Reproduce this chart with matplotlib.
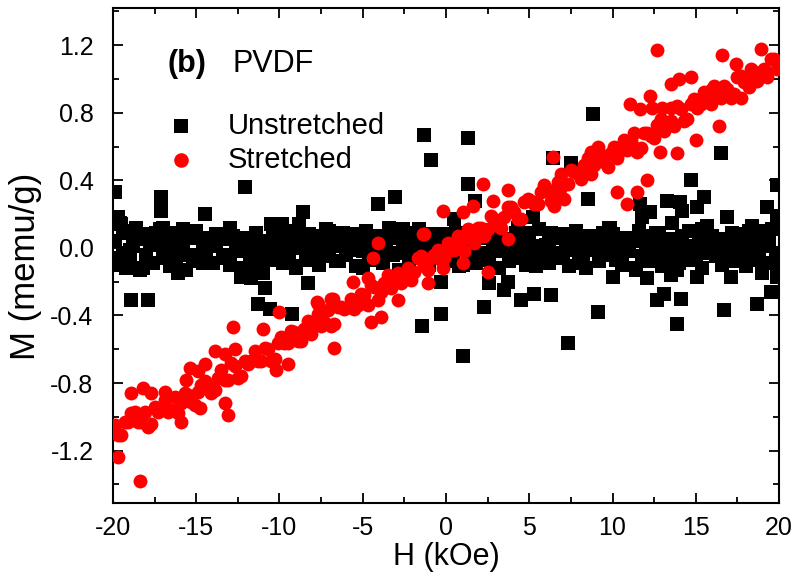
import matplotlib
matplotlib.use("Agg")
import matplotlib.pyplot as plt
from matplotlib.ticker import MultipleLocator

plt.rcParams['font.family'] = ['Liberation Sans', 'DejaVu Sans']
plt.rcParams['axes.unicode_minus'] = False

# Unstretched PVDF: main band around zero
unstr_h_a = [-19.9,-19.7,-19.6,-19.4,-19.2,-19.0,-18.8,-18.6,-18.4,-18.2,
             -18.0,-17.8,-17.6,-17.4,-17.2,-17.0,-16.8,-16.6,-16.4,-16.2,
             -16.0,-15.8,-15.6,-15.4,-15.2,-15.0,-14.8,-14.6,-14.4,-14.2,
             -14.0,-13.8,-13.6,-13.4,-13.2,-13.0,-12.8,-12.6,-12.4,-12.2,
             -12.0,-11.8,-11.6,-11.4,-11.2,-11.0,-10.8,-10.6,-10.4,-10.2,
             -10.0,-9.8,-9.6,-9.4,-9.2,-9.0,-8.8,-8.6,-8.4,-8.2,
             -8.0,-7.8,-7.6,-7.4,-7.2,-7.0,-6.8,-6.6,-6.4,-6.2,
             -6.0,-5.8,-5.6,-5.4,-5.2,-5.0,-4.8,-4.6,-4.4,-4.2,
             -4.0,-3.8,-3.6,-3.4,-3.2,-3.0,-2.8,-2.6,-2.4,-2.2,
             -2.0,-1.8,-1.6,-1.4,-1.2,-1.0,-0.8,-0.6,-0.4,-0.2,
             0.0,0.2,0.4,0.6,0.8,1.0,1.2,1.4,1.6,1.8,
             2.0,2.2,2.4,2.6,2.8,3.0,3.2,3.4,3.6,3.8,
             4.0,4.2,4.4,4.6,4.8,5.0,5.2,5.4,5.6,5.8,
             6.0,6.2,6.4,6.6,6.8,7.0,7.2,7.4,7.6,7.8,
             8.0,8.2,8.4,8.6,8.8,9.0,9.2,9.4,9.6,9.8,
             10.0,10.2,10.4,10.6,10.8,11.0,11.2,11.4,11.6,11.8,
             12.0,12.2,12.4,12.6,12.8,13.0,13.2,13.4,13.6,13.8,
             14.0,14.2,14.4,14.6,14.8,15.0,15.2,15.4,15.6,15.8,
             16.0,16.2,16.4,16.6,16.8,17.0,17.2,17.4,17.6,17.8,
             18.0,18.2,18.4,18.6,18.8,19.0,19.2,19.4,19.6,19.8]
unstr_m_a = [0.04,-0.10,0.15,-0.03,0.09,-0.07,0.01,0.12,-0.12,0.05,
             -0.04,0.08,-0.09,0.02,0.11,-0.06,0.06,-0.11,0.00,0.09,
             -0.02,0.04,-0.13,0.07,-0.05,0.10,-0.08,0.03,-0.01,0.06,
             -0.09,0.01,0.08,-0.04,0.05,-0.10,0.07,-0.02,0.03,-0.12,
             0.06,-0.05,0.02,0.09,-0.08,-0.15,0.04,-0.01,0.07,-0.06,
             0.03,-0.09,0.10,-0.03,0.05,-0.12,0.08,0.00,-0.07,0.04,
             -0.02,0.07,-0.10,0.03,0.11,-0.05,0.01,0.06,-0.08,0.09,
             -0.04,0.02,0.08,-0.11,0.05,-0.02,0.10,-0.07,0.03,-0.05,
             0.07,-0.09,0.01,0.12,-0.04,0.06,-0.13,0.04,0.09,-0.02,
             0.05,-0.06,0.11,-0.01,0.03,-0.10,0.08,0.02,-0.05,0.06,
             -0.08,0.04,-0.02,0.09,-0.11,0.01,0.07,-0.05,0.03,-0.09,
             0.06,-0.03,0.10,-0.07,0.02,0.08,-0.12,0.04,-0.01,0.05,
             -0.06,0.09,-0.02,0.03,-0.10,0.07,0.00,-0.08,0.11,-0.04,
             0.02,-0.09,0.06,-0.03,0.08,-0.06,0.04,-0.11,0.01,0.10,
             -0.05,0.03,-0.12,0.07,-0.01,0.05,-0.08,0.09,-0.03,0.02,
             0.08,-0.07,0.01,-0.10,0.06,-0.02,0.04,-0.13,0.10,-0.05,
             0.03,-0.08,0.07,-0.01,0.09,-0.11,0.02,0.05,-0.06,0.00,
             -0.09,0.06,-0.03,0.10,-0.07,0.01,0.08,-0.12,0.04,-0.02,
             0.07,-0.05,0.02,-0.10,0.05,-0.03,0.09,-0.08,0.00,0.06,
             -0.11,0.03,-0.04,0.08,-0.06,0.02,-0.09,0.05,0.11,-0.03]
unstr_h_b = [-19.8,-19.4,-19.0,-18.6,-18.2,-17.8,-17.4,-17.0,-16.6,-16.2,
             -15.8,-15.4,-15.0,-14.6,-14.2,-13.8,-13.4,-13.0,-12.6,-12.2,
             -11.8,-11.4,-11.0,-10.6,-10.2,-9.8,-9.4,-9.0,-8.6,-8.2,
             -7.8,-7.4,-7.0,-6.6,-6.2,-5.8,-5.4,-5.0,-4.6,-4.2,
             -3.8,-3.4,-3.0,-2.6,-2.2,-1.8,-1.4,-1.0,-0.6,-0.2,
             0.2,0.6,1.0,1.4,1.8,2.2,2.6,3.0,3.4,3.8,
             4.2,4.6,5.0,5.4,5.8,6.2,6.6,7.0,7.4,7.8,
             8.2,8.6,9.0,9.4,9.8,10.2,10.6,11.0,11.4,11.8,
             12.2,12.6,13.0,13.4,13.8,14.2,14.6,15.0,15.4,15.8,
             16.2,16.6,17.0,17.4,17.8,18.2,18.6,19.0,19.4,19.8]
unstr_m_b = [-0.06,0.10,-0.01,0.07,-0.12,0.04,0.09,-0.03,0.01,-0.08,
             0.11,-0.04,0.06,-0.09,0.02,0.08,-0.06,0.12,-0.02,0.04,
             -0.10,0.05,0.00,-0.07,0.09,-0.03,0.06,-0.11,0.03,0.08,
             -0.05,0.01,0.10,-0.08,0.04,-0.01,0.07,-0.12,0.05,0.02,
             -0.06,0.09,-0.03,0.11,-0.09,0.03,0.06,-0.04,0.00,0.08,
             -0.07,0.05,-0.10,0.02,0.07,-0.05,0.10,-0.02,0.04,-0.08,
             0.06,-0.03,0.09,-0.11,0.01,0.05,-0.06,0.08,-0.01,0.03,
             -0.09,0.07,0.00,-0.04,0.10,-0.07,0.02,0.06,-0.12,0.04,
             -0.02,0.09,-0.05,0.03,-0.10,0.07,0.01,-0.06,0.11,-0.03,
             0.05,-0.08,0.02,0.08,-0.04,0.10,-0.07,0.01,0.06,-0.09]
# Unstretched: scattered points away from the band
unstr_h_out = [-19.9,-17.1,-17.1,-14.5,-12.1,-18.9,-17.9,-10.9,-11.3,-10.6,
               -8.3,-9.25,-1.32,1.32,-0.9,1.32,-4.08,-3.06,1.74,-8.6,
               -9.85,-1.44,-0.3,-0.3,6.43,8.5,5.2,0.5,2.6,3.7,
               3.5,5.3,6.3,4.5,2.3,9.1,7.3,1.0,13.9,16.7,
               18.7,19.5,12.7,13.1,14.1,19.0,19.9,12.1,13.5,13.9,
               15.1,17.1,10.0,8.8,16.5,14.7,7.5,19.9,11.65,12.25,
               11.8,13.3,14.05,14.2,15.1,15.5,16.9,19.3,19.9,9.85,
               13.6,15.7,18.4,18.9,-19.7,-19.5,-19.2,-18.4,-17.0,-16.1,
               -12.3,-11.7,-10.5,-8.8,4.3,9.8,6.3]
unstr_m_out = [0.33,0.30,0.22,0.20,0.36,-0.31,-0.31,-0.24,-0.33,-0.36,
               -0.21,-0.39,0.67,0.65,0.52,0.38,0.26,0.30,0.28,0.21,
               0.14,-0.46,-0.39,-0.20,0.53,0.29,0.18,0.17,-0.21,-0.20,
               -0.25,-0.27,-0.28,-0.31,-0.35,-0.38,-0.56,-0.64,-0.45,-0.37,
               -0.33,-0.26,-0.31,-0.27,-0.30,-0.15,-0.17,-0.18,-0.16,-0.13,
               -0.17,-0.17,-0.17,0.79,0.56,0.40,0.50,0.37,0.26,0.21,
               0.18,0.28,0.27,0.22,0.24,0.30,0.18,0.24,0.19,0.12,
               0.15,0.13,0.13,0.10,0.18,0.14,-0.12,-0.13,0.12,-0.15,
               -0.17,-0.18,0.14,0.14,0.12,0.12,0.09]

# Stretched PVDF: linear band
str_h_a = [-19.9,-19.5,-19.1,-18.7,-18.3,-17.9,-17.5,-17.1,-16.7,-16.3,
           -15.9,-15.5,-15.1,-14.7,-14.3,-13.9,-13.5,-13.1,-12.7,-12.3,
           -11.9,-11.5,-11.1,-10.7,-10.3,-9.9,-9.5,-9.1,-8.7,-8.3,
           -7.9,-7.5,-7.1,-6.7,-6.3,-5.9,-5.5,-5.1,-4.7,-4.3,
           -3.9,-3.5,-3.1,-2.7,-2.3,-1.9,-1.5,-1.1,-0.7,-0.3,
           0.1,0.5,0.9,1.3,1.7,2.1,2.5,2.9,3.3,3.7,
           4.1,4.5,4.9,5.3,5.7,6.1,6.5,6.9,7.3,7.7,
           8.1,8.5,8.9,9.3,9.7,10.1,10.5,10.9,11.3,11.7,
           12.1,12.5,12.9,13.3,13.7,14.1,14.5,14.9,15.3,15.7,
           16.1,16.5,16.9,17.3,17.7,18.1,18.5,18.9,19.3,19.7]
str_m_a = [-1.05,-1.11,-1.03,-0.97,-1.03,-1.06,-0.94,-0.96,-0.97,-0.88,
           -0.92,-0.87,-0.93,-0.81,-0.82,-0.84,-0.72,-0.78,-0.70,-0.76,
           -0.69,-0.61,-0.67,-0.60,-0.66,-0.53,-0.56,-0.50,-0.55,-0.43,
           -0.45,-0.46,-0.37,-0.45,-0.35,-0.35,-0.36,-0.27,-0.34,-0.23,
           -0.26,-0.16,-0.19,-0.21,-0.12,-0.14,-0.05,-0.13,-0.04,-0.07,
           0.03,-0.01,0.04,0.11,0.03,0.12,0.11,0.17,0.12,0.24,
           0.21,0.17,0.29,0.26,0.33,0.34,0.31,0.44,0.38,0.45,
           0.41,0.53,0.49,0.55,0.48,0.60,0.58,0.58,0.68,0.59,
           0.68,0.65,0.76,0.74,0.72,0.82,0.76,0.88,0.85,0.90,
           0.96,0.89,0.94,0.91,1.02,0.98,1.04,1.04,1.01,1.12]
str_h_b = [-19.7,-19.3,-18.9,-18.5,-18.1,-17.7,-17.3,-16.9,-16.5,-16.1,
           -15.7,-15.3,-14.9,-14.5,-14.1,-13.7,-13.3,-12.9,-12.5,-12.1,
           -11.7,-11.3,-10.9,-10.5,-10.1,-9.7,-9.3,-8.9,-8.5,-8.1,
           -7.7,-7.3,-6.9,-6.5,-6.1,-5.7,-5.3,-4.9,-4.5,-4.1,
           -3.7,-3.3,-2.9,-2.5,-2.1,-1.7,-1.3,-0.9,-0.5,-0.1,
           0.3,0.7,1.1,1.5,1.9,2.3,2.7,3.1,3.5,3.9,
           4.3,4.7,5.1,5.5,5.9,6.3,6.7,7.1,7.5,7.9,
           8.3,8.7,9.1,9.5,9.9,10.3,10.7,11.1,11.5,11.9,
           12.3,12.7,13.1,13.5,13.9,14.3,14.7,15.1,15.5,15.9,
           16.3,16.7,17.1,17.5,17.9,18.3,18.7,19.1,19.5,19.9]
str_m_b = [-1.11,-1.03,-0.98,-1.03,-0.97,-1.04,-0.97,-0.90,-0.96,-0.98,
           -0.86,-0.91,-0.85,-0.79,-0.86,-0.77,-0.78,-0.68,-0.77,-0.67,
           -0.67,-0.67,-0.59,-0.67,-0.56,-0.56,-0.49,-0.55,-0.48,-0.51,
           -0.39,-0.44,-0.46,-0.35,-0.36,-0.30,-0.34,-0.28,-0.22,-0.31,
           -0.21,-0.24,-0.15,-0.16,-0.19,-0.06,-0.11,-0.06,-0.01,-0.06,
           -0.01,0.07,-0.02,0.08,0.12,0.07,0.19,0.13,0.18,0.24,
           0.17,0.27,0.28,0.26,0.37,0.28,0.39,0.38,0.46,0.44,
           0.49,0.44,0.57,0.51,0.56,0.53,0.64,0.63,0.57,0.68,
           0.66,0.73,0.69,0.75,0.84,0.75,0.85,0.83,0.92,0.85,
           0.92,0.96,0.89,1.01,0.98,1.06,0.99,1.06,1.12,1.06]
str_h_out = [-18.4,-19.7,-18.9,-12.8,-11.0,-10.0,-7.75,-6.9,-12.7,-13.1,
             -13.3,-15.9,-14.8,-10.2,-9.5,-6.7,-0.2,-1.4,-4.1,-4.4,
             -7.7,-4.5,-3.9,-1.1,-2.9,2.2,6.4,3.7,2.8,1.0,
             1.6,-1.3,2.5,1.0,-0.2,3.7,6.5,12.7,16.6,18.9,
             17.4,14.0,14.7,13.5,12.25,11.05,11.65,12.4,13.0,13.5,
             16.0,16.4,15.0,13.9,12.85,12.1,11.5,10.3,10.9,7.1,
             6.85,8.7,9.1,17.7,18.2,-17.7,-18.2,-16.9,-15.4,-14.9,
             -15.6,-14.5,-13.9,-13.3,-5.6,-4.7,-6.8]
str_m_out = [-1.38,-1.24,-0.86,-0.47,-0.48,-0.38,-0.32,-0.30,-0.60,-0.99,
             -0.92,-1.03,-0.95,-0.72,-0.69,-0.59,0.22,0.08,0.03,-0.06,
             -0.33,-0.44,-0.41,-0.21,-0.31,0.38,0.54,0.34,0.28,0.21,
             0.25,0.08,-0.14,-0.09,-0.12,0.05,0.25,1.17,1.14,1.18,
             1.09,1.00,1.01,0.97,0.90,0.85,0.82,0.83,0.83,0.83,
             0.94,0.72,0.64,0.56,0.57,0.40,0.33,0.33,0.26,0.29,
             0.35,0.57,0.60,0.89,0.95,-0.86,-0.83,-0.85,-0.71,-0.73,
             -0.78,-0.69,-0.61,-0.63,-0.20,-0.18,-0.30]

unstr_h = unstr_h_a + unstr_h_b + unstr_h_out
unstr_m = unstr_m_a + unstr_m_b + unstr_m_out
str_h = str_h_a + str_h_b + str_h_out
str_m = str_m_a + str_m_b + str_m_out

fig = plt.figure(figsize=(7.98, 5.82), dpi=100)
ax = fig.add_axes([0.1416, 0.1357, 0.8346, 0.8506])

ax.scatter(unstr_h, unstr_m, marker='s', s=92, color='black', linewidths=0,
           label='Unstretched', zorder=2)
ax.scatter(str_h, str_m, marker='o', s=100, color='#ff0000', linewidths=0,
           label='Stretched', zorder=3)

ax.set_xlim(-20, 20)
ax.set_ylim(-1.51, 1.42)
ax.xaxis.set_major_locator(MultipleLocator(5))
ax.xaxis.set_minor_locator(MultipleLocator(2.5))
ax.yaxis.set_major_locator(MultipleLocator(0.4))
ax.yaxis.set_minor_locator(MultipleLocator(0.2))
ax.yaxis.set_major_formatter(matplotlib.ticker.FormatStrFormatter('%.1f'))

ax.tick_params(which='both', direction='in', top=True, right=True, width=1.3,
               labelsize=18)
ax.tick_params(which='major', length=7)
ax.tick_params(which='minor', length=4)
ax.tick_params(axis='x', which='both', pad=9)
ax.tick_params(axis='y', which='both', pad=14)
for sp in ax.spines.values():
    sp.set_linewidth(1.5)

ax.set_xlabel('H (kOe)', fontsize=22, labelpad=2)
ax.set_ylabel('M (memu/g)', fontsize=25)
ax.yaxis.set_label_coords(-0.106, 0.479)

ax.text(-16.7, 1.09, '(b)', fontsize=22, fontweight='bold', va='center')
ax.text(-12.8, 1.09, 'PVDF', fontsize=22, va='center')

ax.legend(loc='upper left', bbox_to_anchor=(0.037, 0.82), frameon=False,
          fontsize=21, markerscale=1.05, handletextpad=0.6, labelspacing=0.22,
          scatterpoints=1, borderpad=0)

fig.savefig('out.png', dpi=100)
